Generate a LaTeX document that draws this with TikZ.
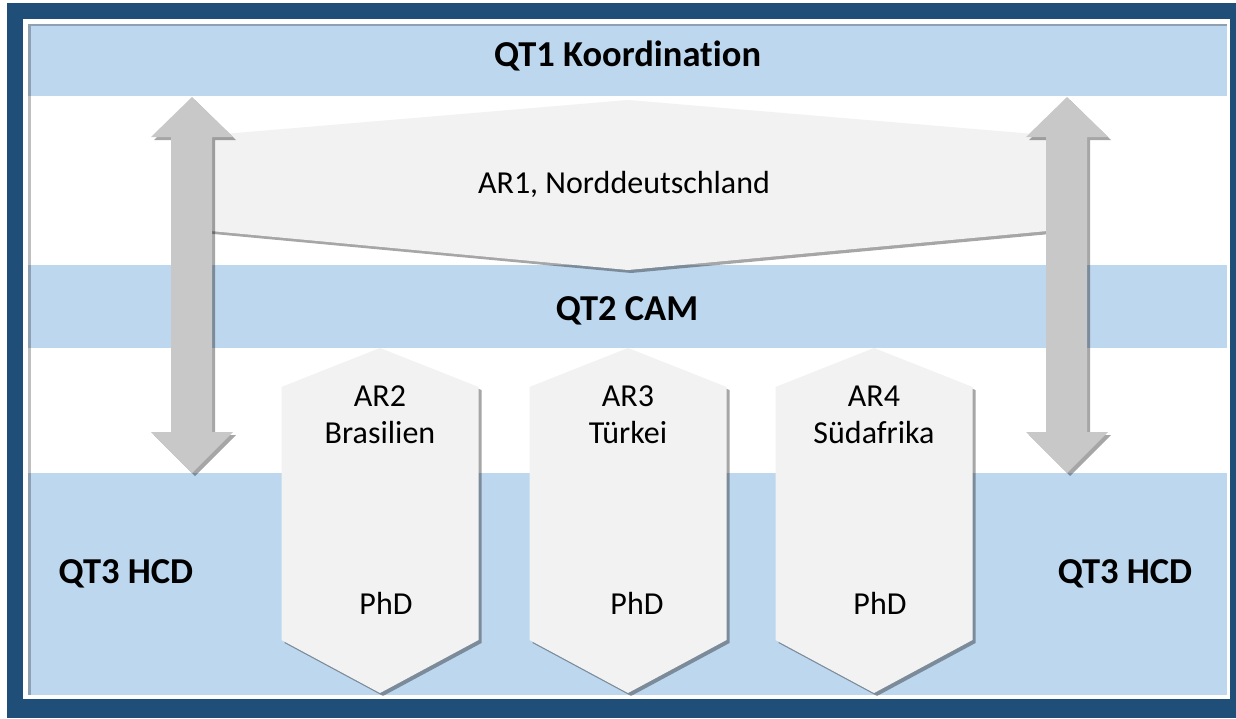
\documentclass[tikz,border=0pt]{standalone}
\usepackage{fontspec}
\setmainfont[Ligatures={NoCommon}]{Carlito}
\usetikzlibrary{shadows}
\definecolor{frameblue}{HTML}{1F4E79}
\definecolor{bandblue}{HTML}{BDD7EE}
\definecolor{boxgray}{HTML}{F2F2F2}
\definecolor{arrowgray}{HTML}{C8C8C8}
\begin{document}
\begin{tikzpicture}[x=1pt,y=-1pt,
  band/.style={fill=bandblue,draw=none},
  shadowed/.style={drop shadow={shadow xshift=3pt,shadow yshift=-3pt,opacity=0.35,fill=black}},
  boxshape/.style={fill=boxgray,draw=none,shadowed},
  arrowshape/.style={fill=arrowgray,draw=none,shadowed},
  bandlabel/.style={font=\fontsize{36.5}{40}\selectfont\bfseries,inner sep=0pt,anchor=base},
  boxlabel/.style={font=\fontsize{32}{37}\selectfont,inner sep=0pt,anchor=base},
]
% canvas and frame
\useasboundingbox (0,0) rectangle (1236,718);
\fill[white] (0,0) rectangle (1236,718);
\fill[frameblue] (7,3) rectangle (1236,718);
\fill[white] (23,19) rectangle (1230,699);
% bands
\fill[band] (28,24) rectangle (1227,96);
\fill[band] (28,265) rectangle (1227,348);
\fill[band] (28,473) rectangle (1227,695);
% faint inner shadow of content area
\fill[black,opacity=0.25] (28,24) rectangle (31,695);
\fill[black,opacity=0.25] (31,24) rectangle (1227,26);
% AR1 shape
\path[boxshape] (200,136) -- (628,100) -- (1058,136) -- (1058,230) -- (628,270) -- (200,230) -- cycle;
% double arrows
\path[arrowshape] (192,97) -- (233,137) -- (212,137) -- (212,432) -- (233,432) -- (192,473)
  -- (151,432) -- (171,432) -- (171,137) -- (151,137) -- cycle;
\path[arrowshape] (1067,97) -- (1108,137) -- (1087,137) -- (1087,432) -- (1108,432) -- (1067,473)
  -- (1026,432) -- (1046,432) -- (1046,137) -- (1026,137) -- cycle;
% AR2..AR4 hexagons
\foreach \cx in {380,628,874}{
  \path[boxshape] (\cx-98.5,387) -- (\cx,348) -- (\cx+98.5,387) -- (\cx+98.5,640) -- (\cx,693) -- (\cx-98.5,640) -- cycle;
}
% labels
\node[bandlabel] (qt1) at (627.5,66) {QT1 Koordination};
\node[bandlabel] (qt2) at (627,320) {QT2 CAM};
\node[bandlabel] (qt3l) at (126,583) {QT3 HCD};
\node[bandlabel] (qt3r) at (1125,583) {QT3 HCD};
\node[boxlabel] (ar1) at (624,193) {AR1, Norddeutschland};
\node[boxlabel] (ar2) at (380,406) {AR2};
\node[boxlabel] (ar2b) at (380,443) {Brasilien};
\node[boxlabel] (ar3) at (628,406) {AR3};
\node[boxlabel] (ar3b) at (628,443) {Türkei};
\node[boxlabel] (ar4) at (874,406) {AR4};
\node[boxlabel] (ar4b) at (874,443) {Südafrika};
\node[boxlabel] (phd2) at (386,614) {PhD};
\node[boxlabel] (phd3) at (637,614) {PhD};
\node[boxlabel] (phd4) at (880,614) {PhD};
\end{tikzpicture}
\end{document}
